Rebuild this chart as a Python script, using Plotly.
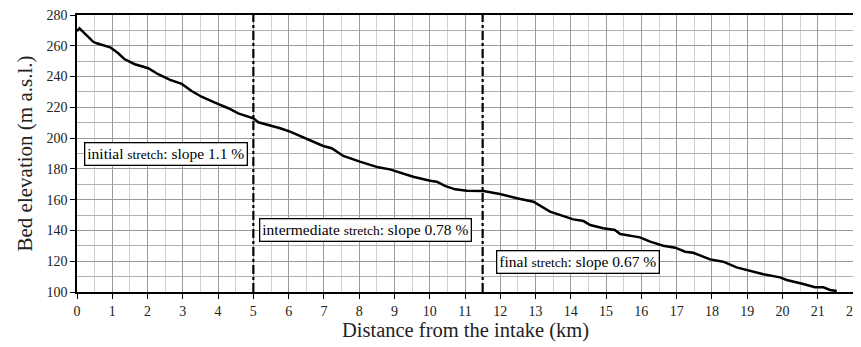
import plotly.graph_objects as go

distance_km = [0.0, 0.07, 0.46, 0.56, 0.94, 1.17, 1.34, 1.64, 2.02, 2.3, 2.64, 2.97, 3.25, 3.53,
               3.91, 4.29, 4.57, 5.0, 5.14, 5.61, 5.76, 6.04, 6.46, 6.98, 7.22, 7.55, 8.02, 8.54,
               8.87, 9.06, 9.53, 10.01, 10.2, 10.43, 10.72, 11.05, 11.52, 11.99, 12.47, 12.94,
               13.32, 13.41, 14.07, 14.36, 14.55, 14.92, 15.25, 15.4, 15.96, 16.25, 16.62, 16.96,
               17.24, 17.47, 17.95, 18.32, 18.7, 19.08, 19.46, 19.93, 20.12, 20.59, 20.92, 21.16,
               21.35, 21.54]
elevation_m = [269.5, 271.3, 262.6, 261.6, 259.0, 255.1, 251.4, 248.0, 245.4, 241.5, 237.8, 235.2,
               230.6, 226.9, 223.0, 219.4, 216.1, 212.9, 210.3, 207.4, 206.4, 204.2, 199.9, 194.9,
               193.4, 188.4, 184.7, 181.0, 179.7, 178.2, 174.9, 172.3, 171.7, 168.9, 166.7, 165.8,
               165.6, 163.7, 160.9, 158.7, 153.7, 152.2, 147.2, 146.1, 143.5, 141.4, 140.3, 137.7,
               135.5, 132.7, 130.1, 128.8, 126.2, 125.5, 121.2, 119.7, 116.0, 113.8, 111.5, 109.5,
               107.8, 105.2, 103.1, 103.1, 101.3, 100.6]

stretch_limits_km = [5.0, 11.5]
label_texts = ['initial <span style="font-size:13.5px">stretch</span>: slope 1.1 %',
               'intermediate <span style="font-size:13.5px">stretch</span>: slope 0.78 %',
               'final <span style="font-size:13.5px">stretch</span>: slope 0.67 %']
label_x = [2.51, 8.19, 14.2]
label_y = [189.9, 140.1, 119.5]
x_title = "Distance from the intake (km)"
y_title = "Bed elevation (m a.s.l.)"

FONT = "Liberation Serif"

fig = go.Figure()
fig.add_trace(go.Scatter(x=distance_km, y=elevation_m, mode="lines",
                         line=dict(color="black", width=2.5), showlegend=False))

for xv in stretch_limits_km:
    fig.add_shape(type="line", xref="x", yref="y", x0=xv, x1=xv, y0=100, y1=280,
                  line=dict(color="black", width=2.2, dash="dashdot"))

for t, xv, yv in zip(label_texts, label_x, label_y):
    fig.add_annotation(x=xv, y=yv, xref="x", yref="y", text=t, showarrow=False,
                       font=dict(family=FONT, size=15.5, color="black"),
                       bgcolor="white", bordercolor="black", borderwidth=1.3, borderpad=2)

# x-axis title placed below the tick labels
fig.add_annotation(x=0.5, y=-0.14, xref="paper", yref="paper", text=x_title,
                   showarrow=False, yanchor="middle",
                   font=dict(family=FONT, size=20.5, color="#222"))

# page body has an 8px default margin, so the figure is sized to fit the window
fig.update_layout(
    width=853, height=339,
    margin=dict(l=69, r=8, t=7, b=55, autoexpand=False),
    paper_bgcolor="white", plot_bgcolor="white",
    font=dict(family=FONT, color="black"),
)
fig.update_xaxes(range=[0, 22], dtick=1, tick0=0, automargin=False,
                 ticklabeloverflow="allow",
                 showgrid=True, gridcolor="#9a9a9a", gridwidth=1.2,
                 minor=dict(dtick=0.5, showgrid=True, gridcolor="#d0d0d0", gridwidth=1),
                 showline=True, linecolor="black", linewidth=1.5, mirror=True,
                 ticks="outside", ticklen=5, tickcolor="black",
                 tickfont=dict(family=FONT, size=14, color="#222"),
                 zeroline=False)
fig.update_yaxes(range=[100, 280], dtick=20, tick0=100, automargin=False,
                 ticklabeloverflow="allow",
                 showgrid=True, gridcolor="#9a9a9a", gridwidth=1.2,
                 minor=dict(dtick=10, showgrid=True, gridcolor="#b0b0b0", gridwidth=1),
                 showline=True, linecolor="black", linewidth=1.5, mirror=True,
                 ticks="outside", ticklen=5, tickcolor="black",
                 tickfont=dict(family=FONT, size=14, color="#222"),
                 title=dict(text=y_title,
                            font=dict(family=FONT, size=21, color="#222"), standoff=8),
                 zeroline=False)

fig.write_html("out.html")
